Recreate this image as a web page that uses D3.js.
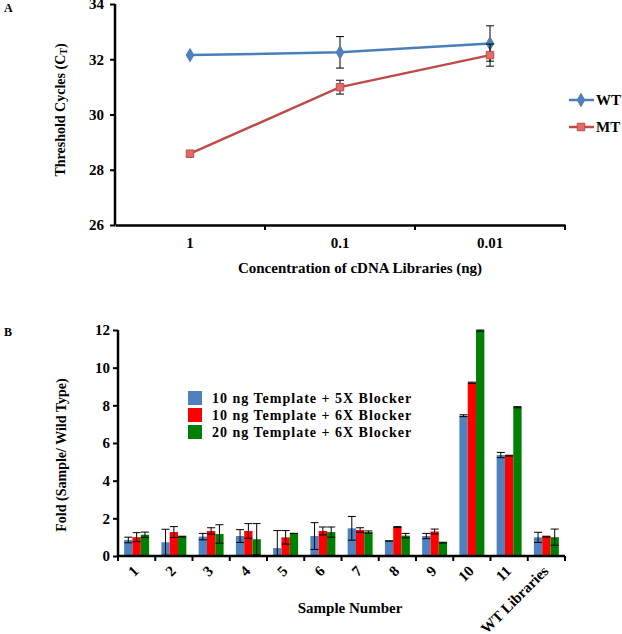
<!DOCTYPE html>
<html><head><meta charset="utf-8">
<script src="https://cdn.jsdelivr.net/npm/d3@7"></script>
<style>
body{margin:0;background:#fff;}
svg text{font-family:"Liberation Serif","Times New Roman",serif;font-weight:bold;fill:#000;}
</style>
</head><body>
<svg id="c" width="622" height="634"></svg>
<script>
// ---- Panel A data ----
const concCats = ["1", "0.1", "0.01"];
const wtCt = [32.15, 32.25, 32.57];
const wtErr = [0, 0.57, 0.64];
const mtCt = [28.58, 30.99, 32.15];
const mtErr = [0, 0.25, 0.40];
const ctTicks = [26, 28, 30, 32, 34];

// ---- Panel B data ----
const samples = ["1","2","3","4","5","6","7","8","9","10","11","WT Libraries"];
const seriesNames = ["10 ng Template + 5X Blocker", "10 ng Template + 6X Blocker", "20 ng Template + 6X Blocker"];
const s5x10 = [0.85, 0.73, 1.03, 1.06, 0.42, 1.06, 1.47, 0.80, 1.06, 7.45, 5.36, 0.99];
const s6x10 = [1.00, 1.27, 1.33, 1.33, 0.99, 1.33, 1.38, 1.54, 1.30, 9.20, 5.33, 1.03];
const s6x20 = [1.13, 1.03, 1.17, 0.89, 1.20, 1.27, 1.27, 1.08, 0.71, 11.97, 7.90, 1.00];
const e5x10 = [0.15, 0.69, 0.17, 0.34, 0.93, 0.71, 0.63, 0.00, 0.14, 0.05, 0.14, 0.27];
const e6x10 = [0.24, 0.29, 0.17, 0.39, 0.36, 0.21, 0.12, 0.02, 0.13, 0.03, 0.02, 0.02];
const e6x20 = [0.14, 0.02, 0.49, 0.83, 0.00, 0.27, 0.06, 0.12, 0.02, 0.03, 0.03, 0.43];
const foldTicks = [0, 2, 4, 6, 8, 10, 12];

const svg = d3.select("#c");

// ================= Panel A =================
const xA = d3.scaleBand().domain(concCats).range([115, 565]);
const yA = d3.scaleLinear().domain([26, 34]).range([225, 4]);

svg.append("text").attr("x", 4).attr("y", 12).attr("font-size", 12).text("A");

const gAy = svg.append("g").attr("transform", "translate(115,0)")
  .call(d3.axisLeft(yA).tickValues(ctTicks).tickSize(5).tickPadding(6).tickFormat(d3.format("d")));
const gAx = svg.append("g").attr("transform", "translate(0,225)")
  .call(d3.axisBottom(xA).tickSize(0).tickPadding(12));
svg.append("g").selectAll("line").data(concCats).join("line")
  .attr("x1", (d, i) => xA.range()[0] + xA.step() * (i + 1))
  .attr("x2", (d, i) => xA.range()[0] + xA.step() * (i + 1))
  .attr("y1", 225).attr("y2", 230).attr("stroke", "#000").attr("stroke-width", 2);

[gAy, gAx].forEach(g => {
  g.select(".domain").attr("stroke", "#000").attr("stroke-width", 2.5);
  g.selectAll(".tick line").attr("stroke", "#000").attr("stroke-width", 2);
  g.selectAll(".tick text").attr("font-size", 15).attr("font-family", "Liberation Serif").attr("font-weight", "bold");
});
gAy.select(".domain").attr("d", "M0,4V225");

svg.append("text").attr("x", 360).attr("y", 273).attr("text-anchor", "middle").attr("font-size", 15)
  .text("Concentration of cDNA Libraries (ng)");
const yt = svg.append("text").attr("transform", "translate(65,110) rotate(-90)").attr("text-anchor", "middle").attr("font-size", 14);
yt.append("tspan").text("Threshold Cycles (C");
yt.append("tspan").attr("font-size", 10).attr("dy", 2).text("T");
yt.append("tspan").attr("dy", -2).text(")");

const cx = d => xA(d) + xA.bandwidth() / 2;
const seriesA = [
  {name: "WT", vals: wtCt, errs: wtErr, color: "#4A7EBB", fill: "#4F81BD", shape: d3.symbolDiamond},
  {name: "MT", vals: mtCt, errs: mtErr, color: "#BE4B48", fill: "#E06B68", shape: d3.symbolSquare}
];
const line = d3.line().x((v, i) => cx(concCats[i])).y(v => yA(v));
seriesA.forEach(s => {
  const eg = svg.append("g");
  s.vals.forEach((v, i) => {
    if (!s.errs[i]) return;
    const x = cx(concCats[i]);
    eg.append("line").attr("x1", x).attr("x2", x).attr("y1", yA(v + s.errs[i])).attr("y2", yA(v - s.errs[i])).attr("stroke", "#000").attr("stroke-width", 1);
    [v + s.errs[i], v - s.errs[i]].forEach(e =>
      eg.append("line").attr("x1", x - 4).attr("x2", x + 4).attr("y1", yA(e)).attr("y2", yA(e)).attr("stroke", "#000").attr("stroke-width", 1));
  });
  svg.append("path").datum(s.vals).attr("d", line).attr("fill", "none").attr("stroke", s.color).attr("stroke-width", 2.5);
  svg.append("g").selectAll("path").data(s.vals).join("path")
    .attr("transform", (v, i) => `translate(${cx(concCats[i])},${yA(v)})`)
    .attr("d", d3.symbol(s.shape, s.shape === d3.symbolSquare ? 56 : 50))
    .attr("fill", s.fill).attr("stroke", s.color).attr("stroke-width", 1);
});
// legend A
seriesA.forEach((s, i) => {
  const y = 100 + i * 27;
  svg.append("line").attr("x1", 569).attr("x2", 594).attr("y1", y).attr("y2", y).attr("stroke", s.color).attr("stroke-width", 2.5);
  svg.append("path").attr("transform", `translate(581,${y})`).attr("d", d3.symbol(s.shape, s.shape === d3.symbolSquare ? 56 : 50))
    .attr("fill", s.fill).attr("stroke", s.color);
  svg.append("text").attr("x", 596).attr("y", y + 5).attr("font-size", 15).text(s.name);
});

// ================= Panel B =================
const xB = d3.scaleBand().domain(samples).range([118, 565]).paddingInner(0.33).paddingOuter(0.165);
const xS = d3.scaleBand().domain(d3.range(3)).range([0, xB.bandwidth()]);
const yB = d3.scaleLinear().domain([0, 12]).range([556, 330]);
const colorsB = ["#4F81BD", "#FF0000", "#008000"];
const valsB = [s5x10, s6x10, s6x20];
const errsB = [e5x10, e6x10, e6x20];

svg.append("text").attr("x", 4).attr("y", 336).attr("font-size", 12).text("B");

valsB.forEach((vals, k) => {
  svg.append("g").selectAll("rect").data(vals).join("rect")
    .attr("x", (v, i) => xB(samples[i]) + xS(k))
    .attr("width", xS.bandwidth())
    .attr("y", v => yB(v)).attr("height", v => yB(0) - yB(v))
    .attr("fill", colorsB[k]);
});
valsB.forEach((vals, k) => {
  const eg = svg.append("g");
  vals.forEach((v, i) => {
    const e = errsB[k][i];
    const x = xB(samples[i]) + xS(k) + xS.bandwidth() / 2;
    eg.append("line").attr("x1", x).attr("x2", x).attr("y1", yB(v + e)).attr("y2", yB(Math.max(0, v - e))).attr("stroke", "#000").attr("stroke-width", 1);
    [v + e, v - e].filter(t => t >= 0).forEach(t =>
      eg.append("line").attr("x1", x - 4).attr("x2", x + 4).attr("y1", yB(t)).attr("y2", yB(t)).attr("stroke", "#000").attr("stroke-width", 1));
  });
});

const gBy = svg.append("g").attr("transform", "translate(118,0)")
  .call(d3.axisLeft(yB).tickValues(foldTicks).tickSize(5).tickPadding(3).tickFormat(d3.format("d")));
const gBx = svg.append("g").attr("transform", "translate(0,556)")
  .call(d3.axisBottom(xB).tickSize(0).tickPadding(0));
gBx.selectAll(".tick text")
  .attr("text-anchor", "end").attr("dy", 0)
  .attr("transform", "translate(3,16) rotate(-45)");
svg.append("g").selectAll("line").data(samples.concat(["end"])).join("line")
  .attr("x1", (d, i) => 118 + xB.step() * i).attr("x2", (d, i) => 118 + xB.step() * i)
  .attr("y1", 556).attr("y2", 561).attr("stroke", "#000").attr("stroke-width", 2);
[gBy, gBx].forEach(g => {
  g.select(".domain").attr("stroke", "#000").attr("stroke-width", 2.5);
  g.selectAll(".tick line").attr("stroke", "#000").attr("stroke-width", 2);
  g.selectAll(".tick text").attr("font-size", 15).attr("font-family", "Liberation Serif").attr("font-weight", "bold");
});
gBy.select(".domain").attr("d", "M0,330V556");
gBx.select(".domain").attr("d", "M118,0H565");

svg.append("text").attr("x", 350).attr("y", 613).attr("text-anchor", "middle").attr("font-size", 15).text("Sample Number");
svg.append("text").attr("transform", "translate(66,455) rotate(-90)").attr("text-anchor", "middle").attr("font-size", 14)
  .text("Fold (Sample/ Wild Type)");

// legend B
seriesNames.forEach((n, i) => {
  const y = 398 + i * 17;
  svg.append("rect").attr("x", 188).attr("y", y - 7).attr("width", 14).attr("height", 14).attr("fill", colorsB[i]);
  svg.append("text").attr("x", 212).attr("y", y + 5).attr("font-size", 14).attr("letter-spacing", 1).text(n);
});
</script>
</body></html>
